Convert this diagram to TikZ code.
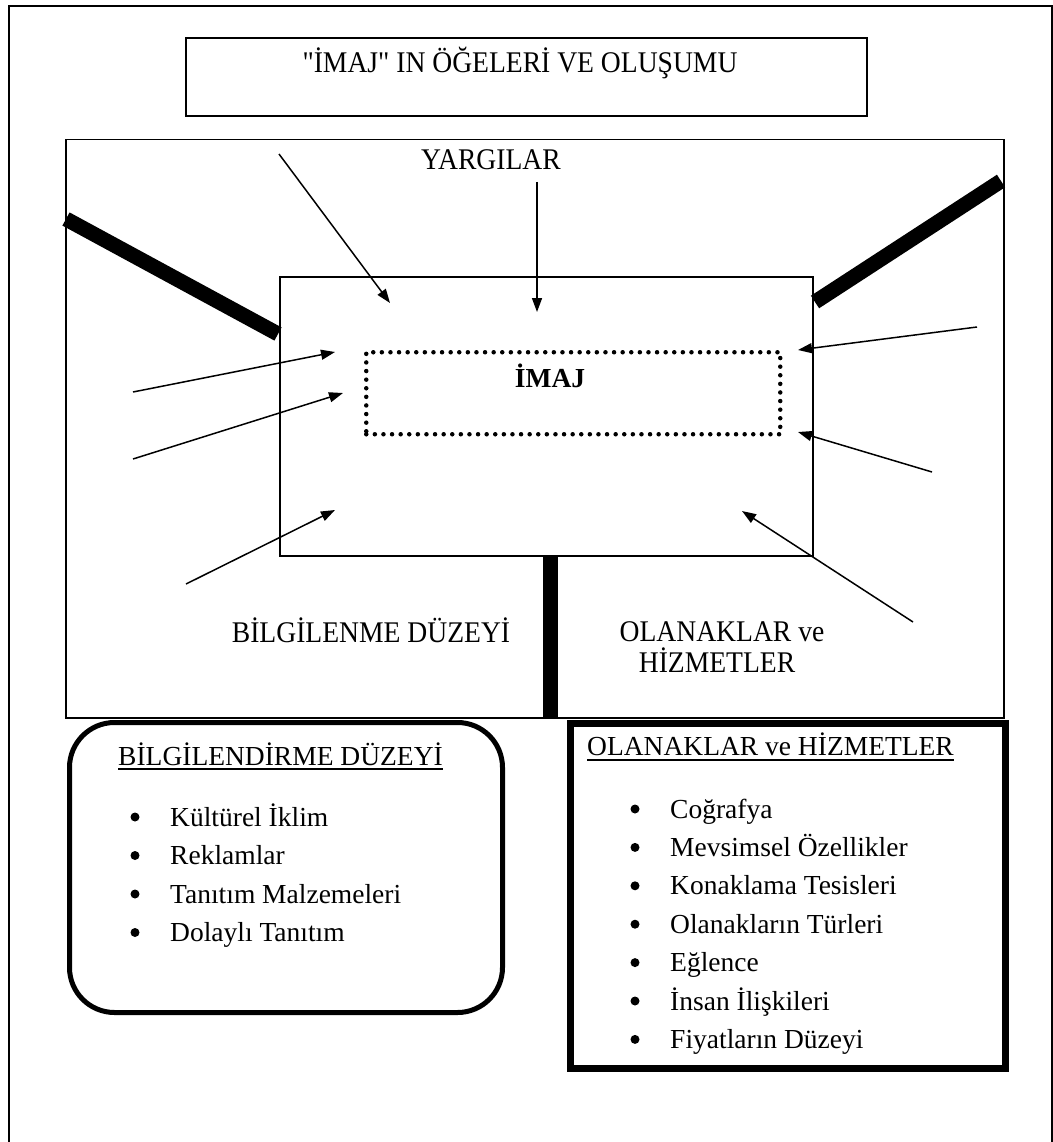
\documentclass[tikz,border=0pt]{standalone}
\usepackage{fontspec}
\setmainfont{Liberation Serif}
\newfontfamily\narrowserif[FakeStretch=0.92]{Liberation Serif}
\usetikzlibrary{arrows.meta,calc}

\begin{document}
\begin{tikzpicture}[x=1pt,y=-1pt,
  frame/.style={draw,line width=1.6pt,inner sep=0pt,anchor=north west},
  thinarrow/.style={line width=1.5pt,-{Triangle[length=14pt,width=10pt]}},
  bar/.style={line width=15pt},
  txt/.style={font=\fontsize{27.5}{30}\selectfont,inner sep=0pt},
  ntxt/.style={font=\narrowserif\fontsize{30}{33}\selectfont,inner sep=0pt},
  ul/.style={line width=1.4pt},
  dot/.style={circle,fill,inner sep=0pt,minimum size=9pt},
]
\useasboundingbox (0,0) rectangle (1052,1142);
\fill[white] (0,0) rectangle (1052,1142);

% page frame and boxes
\node[frame,minimum width=1043pt,minimum height=1137pt] (page) at (8,5) {};
\node[frame,minimum width=681pt,minimum height=78pt] (titlebox) at (185,37) {};
\node[frame,line width=1.5pt,minimum width=938pt,minimum height=578pt] (outer) at (65,139) {};
\node[frame,line width=1.5pt,minimum width=533pt,minimum height=279pt] (inner) at (279,276) {};
\node[frame,line width=4.5pt,line cap=round,dash pattern=on 0pt off 8.6pt,
      minimum width=414pt,minimum height=82pt] (core) at (364,350) {};
\node[frame,line width=5pt,rounded corners=45pt,minimum width=433pt,minimum height=290pt] (infobox) at (67,720) {};
\node[frame,line width=7pt,minimum width=435pt,minimum height=345pt] (servbox) at (566.5,719.5) {};

% texts
\node[ntxt,anchor=base] (title) at (520,73) {"İMAJ" IN ÖĞELERİ VE OLUŞUMU};
\node[ntxt,anchor=base] (judg) at (491,170) {YARGILAR};
\node[txt,font=\fontsize{27.5}{30}\selectfont\bfseries,anchor=base] (imaj) at (550,387) {İMAJ};
\node[ntxt,anchor=base] (info) at (371,642) {BİLGİLENME DÜZEYİ};
\node[ntxt,anchor=base] (serva) at (722,641) {OLANAKLAR ve};
\node[ntxt,anchor=base] (servb) at (717,672) {HİZMETLER};

% thick bars
\coordinate (lbA) at (66,219);   \coordinate (lbB) at (278,334);
\coordinate (rbA) at (1001,181); \coordinate (rbB) at (815,302);
\coordinate (vbA) at (550,555);  \coordinate (vbB) at (550,717);
\draw[bar] (lbA) -- (lbB);
\draw[bar] (rbA) -- (rbB);
\draw[line width=15pt] (vbA) -- (vbB);

% arrows pointing into the image
\coordinate (a1s) at (279,154); \coordinate (a1e) at (390,303);
\coordinate (a2s) at (537,182); \coordinate (a2e) at (537,312);
\coordinate (a3s) at (133,392); \coordinate (a3e) at (335,352);
\coordinate (a4s) at (133,459); \coordinate (a4e) at (343,393);
\coordinate (a5s) at (186,584); \coordinate (a5e) at (335,510);
\coordinate (a6s) at (977,327); \coordinate (a6e) at (798,350);
\coordinate (a7s) at (932,472); \coordinate (a7e) at (798,432);
\coordinate (a8s) at (913,622); \coordinate (a8e) at (742,511);
\foreach \k in {1,...,8} \draw[thinarrow] (a\k s) -- (a\k e);

% lower left list
\node[txt,anchor=base west] (infohead) at (118,765) {BİLGİLENDİRME DÜZEYİ};
\draw[ul] ($(infohead.base west)+(0,4)$) -- ($(infohead.base east)+(0,4)$);
\foreach \t [count=\i from 0] in {Kültürel İklim,Reklamlar,Tanıtım Malzemeleri,Dolaylı Tanıtım} {
  \node[dot] (ib\i) at (135,817+38.5*\i) {};
  \node[txt,anchor=base west] (it\i) at (170,826+38.5*\i) {\t};
}

% lower right list
\node[txt,anchor=base west] (servhead) at (587,755) {OLANAKLAR ve HİZMETLER};
\draw[ul] ($(servhead.base west)+(0,5)$) -- ($(servhead.base east)+(0,5)$);
\foreach \t [count=\i from 0] in {Coğrafya,Mevsimsel Özellikler,Konaklama Tesisleri,Olanakların Türleri,Eğlence,İnsan İlişkileri,Fiyatların Düzeyi} {
  \node[dot] (sb\i) at (635,809+38.4*\i) {};
  \node[txt,anchor=base west] (st\i) at (670,818+38.4*\i) {\t};
}
\end{tikzpicture}
\end{document}
